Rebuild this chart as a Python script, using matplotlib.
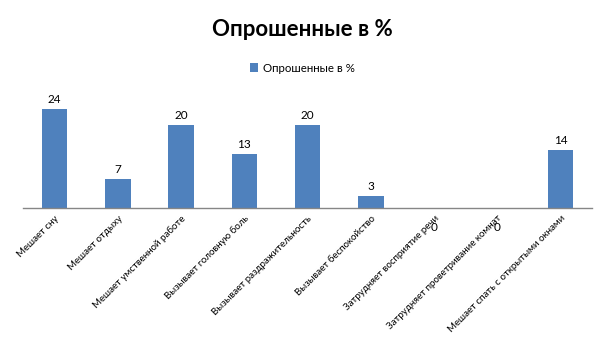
import matplotlib
matplotlib.use('Agg')
import matplotlib.pyplot as plt
import numpy as np

plt.rcParams['font.family'] = ['Lato', 'DejaVu Sans']

# Данные опроса
categories = [
    'Мешает сну',
    'Мешает отдыху',
    'Мешает умственной работе',
    'Вызывает головную боль',
    'Вызывает раздражительность',
    'Вызывает беспокойство',
    'Затрудняет восприятие речи',
    'Затрудняет проветривание комнат',
    'Мешает спать с открытыми окнами',
]
values = [24, 7, 20, 13, 20, 3, 0, 0, 14]
series_name = 'Опрошенные в %'

bar_color = '#4F81BD'

fig = plt.figure(figsize=(6.05, 3.4), dpi=100)
ax = fig.add_axes([0.038, 0.388, 0.941, 0.365])

x = np.arange(len(categories))
bars = ax.bar(x, values, width=0.4, color=bar_color, label=series_name)

ax.set_xlim(-0.5, len(categories) - 0.5)
ax.set_ylim(0, 30)

# Подписи значений
for xi, v in zip(x, values):
    if v > 0:
        ax.annotate(str(v), (xi, v), xytext=(0, 3), textcoords='offset points',
                    ha='center', va='bottom', fontsize=8.5)
    else:
        ax.annotate(str(v), (xi, v), xytext=(0, -14), textcoords='offset points',
                    ha='center', va='center', fontsize=8.5)

ax.set_xticks(x)
ax.set_xticklabels(categories, rotation=45, ha='right', rotation_mode='anchor',
                   fontsize=7)
ax.tick_params(axis='x', length=0, pad=4)
ax.set_yticks([])

for side in ['top', 'right', 'left']:
    ax.spines[side].set_visible(False)
ax.spines['bottom'].set_color('#868686')
ax.spines['bottom'].set_linewidth(1.0)

fig.text(0.5, 0.912, series_name, ha='center', va='center',
         fontsize=16, fontweight='bold')

fig.legend(handles=[bars], labels=[series_name], loc='center',
           bbox_to_anchor=(0.5, 0.8), frameon=False, fontsize=8.3,
           handlelength=0.7, handleheight=0.7, handletextpad=0.4)

fig.savefig('out.png', dpi=100)
